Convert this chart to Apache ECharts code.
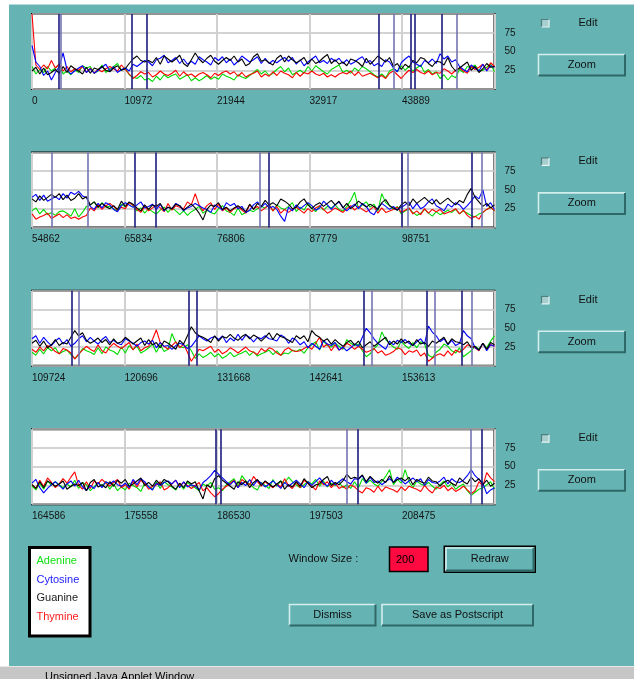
<!DOCTYPE html>
<html>
<head>
<meta charset="utf-8">
<script src="https://cdn.jsdelivr.net/npm/echarts@6/dist/echarts.min.js"></script>
<style>
  html, body { margin: 0; padding: 0; background: #66b3b3; }
  #chart { width: 634px; height: 679px; }
</style>
</head>
<body>
<div id="chart"></div>
<script>
// ---- Sequence windows: each panel covers 54862 bp, ticks every 10972.4 bp ----
const panelStart = [0, 54862, 109724, 164586];
const panelSpan = 54862;
const tickStep = 10972.4;
const tickLabels = [
  [0, 10972, 21944, 32917, 43889],
  [54862, 65834, 76806, 87779, 98751],
  [109724, 120696, 131668, 142641, 153613],
  [164586, 175558, 186530, 197503, 208475]
];
const yTickLabels = [25, 50, 75];
const baseNames = ['Adenine', 'Cytosine', 'Guanine', 'Thymine'];

// ---- Base composition (%) per sliding window, panel 1 ----
const adenine1 = [30,20,26,22,30,24,28,33,20,24,19,26,22,31,28,30,21,24,32,22,27,30,34,25,28,19,16,14,18,12,14,10,17,12,19,15,18,20,13,16,19,11,15,11,14,18,13,16,13,20,17,15,12,19,16,14,18,22,26,20,24,18,21,26,30,23,28,19,22,25,21,30,24,31,27,23,20,26,29,32,22,25,21,28,24,30,27,23,19,16,20,15,24,27,23,31,25,30,24,28,32,22,26,20,23,14,19,12,18,15,26,22,30,28,32,24,25,29,33,23];
const cytosine1 = [58,36,30,18,24,12,22,30,48,26,20,24,28,31,22,27,21,25,29,33,24,30,22,26,28,24,33,30,34,38,36,31,39,41,45,35,38,42,34,40,33,37,33,43,39,36,32,42,38,43,35,40,32,37,44,40,36,39,43,34,41,34,38,35,39,42,37,42,33,39,31,36,40,44,35,38,34,41,37,41,34,39,33,36,40,43,35,38,31,34,30,39,36,28,23,35,40,44,36,33,30,38,35,40,34,47,40,44,36,39,30,26,23,32,28,24,33,24,31,29];
const guanine1 = [24,29,20,28,19,22,26,21,30,22,31,27,24,20,29,21,28,26,30,25,23,28,31,25,27,34,40,44,38,36,38,35,42,33,44,40,36,40,45,34,30,39,48,40,35,41,45,37,33,38,42,38,44,36,40,31,34,43,47,37,39,35,32,41,45,36,44,39,35,38,42,33,40,34,37,42,46,34,39,33,36,31,40,38,35,30,41,33,38,44,40,36,42,30,34,26,33,29,38,35,42,40,34,30,37,36,32,42,30,24,28,32,36,25,30,22,27,34,29,30];
const thymine1 = [100,32,26,32,27,38,28,33,24,30,23,27,25,30,22,28,21,26,23,27,30,27,24,32,26,20,14,18,23,20,22,16,19,24,20,18,21,25,17,23,18,20,16,20,22,19,15,21,18,22,24,20,23,17,22,16,19,21,24,16,20,17,23,18,24,21,19,15,22,17,22,20,24,20,18,21,16,19,16,20,22,20,24,18,23,17,19,21,18,15,18,14,21,24,19,14,20,25,22,26,22,20,24,19,22,21,27,24,20,25,28,24,21,30,26,29,33,25,35,30];

// ---- panel 2 ----
const adenine2 = [22,26,18,24,17,20,16,21,22,19,15,25,14,20,28,30,34,26,33,27,28,25,22,31,27,33,29,22,26,19,25,21,18,23,27,20,26,22,17,22,16,21,24,28,19,23,20,18,25,29,22,20,16,26,17,20,23,21,25,28,26,31,22,30,26,24,28,33,21,27,23,32,25,21,29,23,28,26,30,24,22,28,36,47,25,30,34,27,31,22,45,33,29,24,28,18,22,25,20,16,19,24,19,15,21,17,20,23,20,24,18,22,19,16,14,18,20,24,27,22];
const cytosine2 = [40,44,36,43,35,38,41,37,45,39,47,44,48,42,40,28,24,32,26,33,30,24,21,29,33,30,27,30,34,26,28,31,24,31,22,27,25,32,29,22,26,28,32,29,26,24,20,30,27,23,33,29,32,25,28,20,23,30,34,27,32,26,28,24,15,8,27,22,30,25,29,33,29,23,26,35,30,24,30,34,27,22,27,31,25,32,28,20,17,26,32,28,24,28,23,27,30,34,25,32,25,28,34,38,29,26,22,31,27,33,30,24,29,35,42,38,50,28,33,24];
const guanine2 = [38,34,42,36,40,44,40,45,37,43,36,39,45,38,41,30,34,27,32,28,25,29,24,35,28,34,31,26,22,30,24,30,28,32,23,27,25,31,29,23,27,31,26,19,10,24,30,28,33,24,27,22,26,29,25,21,31,24,32,28,36,30,33,29,38,35,31,25,27,34,38,30,25,30,33,28,32,36,30,35,26,32,25,29,35,31,27,31,28,24,33,37,29,26,23,30,34,29,38,32,36,40,35,31,37,31,35,39,34,30,36,33,44,52,40,34,28,32,26,30];
const thymine2 = [18,11,14,16,19,12,15,18,13,17,12,14,11,14,16,26,22,30,24,29,32,28,23,27,25,33,30,24,20,28,22,26,30,26,21,32,23,29,27,25,34,30,45,30,22,29,33,24,31,22,26,20,25,28,23,19,30,25,28,22,26,30,22,28,19,24,20,24,27,23,19,25,21,26,29,24,19,22,26,23,20,25,29,23,28,24,21,24,28,19,26,20,22,24,27,20,23,26,18,22,17,25,19,24,21,24,18,20,22,25,18,23,16,12,15,11,20,24,27,22];

// ---- panel 3 ----
const adenine3 = [18,14,22,16,24,20,24,16,19,21,15,10,14,23,20,18,15,24,16,25,21,19,15,25,17,27,22,26,17,20,24,29,18,28,19,22,43,31,26,24,28,20,10,16,11,14,18,12,16,10,13,18,12,15,17,20,14,19,13,16,18,21,15,20,14,17,16,21,19,22,17,24,28,32,21,33,27,25,30,26,22,35,30,27,29,20,12,16,23,28,45,35,30,25,22,33,27,23,31,24,32,29,14,11,18,22,29,26,20,17,24,12,16,20,26,22,30,24,33,40];
const cytosine3 = [36,40,30,38,32,27,33,37,29,35,26,30,36,40,32,38,33,29,35,39,31,34,30,28,36,33,30,26,31,33,29,34,24,31,26,27,22,27,30,28,23,26,33,40,36,33,37,39,35,40,31,37,33,42,34,41,38,32,38,36,40,36,35,33,41,38,30,37,34,28,32,24,30,26,22,34,29,27,31,21,25,20,24,29,26,38,50,44,36,30,26,22,33,28,34,31,35,30,27,32,36,29,53,45,40,32,36,28,34,27,30,47,40,36,24,21,30,20,28,26];
const guanine3 = [30,34,26,33,24,28,35,27,31,29,38,47,40,44,34,30,33,37,31,35,28,36,30,32,38,34,29,33,37,27,35,28,31,24,33,30,26,22,34,29,40,52,44,40,38,35,31,40,33,39,37,42,37,34,39,42,36,41,38,33,38,44,35,43,39,37,34,31,40,36,40,32,47,41,38,33,36,29,35,30,26,31,34,28,33,24,28,32,26,30,34,38,28,33,29,36,30,33,27,35,29,31,26,33,30,34,38,29,36,32,31,28,32,24,26,21,30,22,31,28];
const thymine3 = [22,18,25,20,27,24,19,16,23,21,17,9,16,21,26,22,19,28,20,17,25,30,26,23,27,31,21,29,20,24,26,35,48,31,26,22,27,32,24,29,18,6,14,22,20,23,26,18,22,16,19,24,21,17,21,25,20,18,15,23,19,24,22,17,14,21,24,20,19,20,23,26,22,30,38,25,29,20,28,21,24,30,27,22,26,22,18,20,23,17,20,14,16,19,24,22,15,20,18,21,13,17,6,10,14,16,13,20,14,21,18,22,28,26,24,20,30,22,28,26];

// ---- panel 4 ----
const adenine4 = [24,19,28,20,31,25,30,26,22,27,23,32,21,29,26,18,23,29,24,30,20,27,18,23,19,28,25,22,17,28,24,20,30,21,30,26,23,19,28,20,29,25,22,18,27,24,29,20,22,18,26,30,34,24,38,31,27,22,19,29,25,21,33,24,31,28,36,30,26,22,26,30,27,33,24,31,23,28,25,30,22,26,21,30,22,34,28,32,27,24,30,37,46,26,33,28,46,30,22,31,27,25,29,24,20,26,31,23,28,20,24,27,18,12,16,20,22,26,30,20];
const cytosine4 = [28,33,22,15,21,26,30,25,20,27,31,24,32,23,18,25,21,29,22,30,27,31,26,24,28,22,33,26,34,30,23,19,28,25,29,31,27,32,22,30,23,26,24,19,29,33,38,45,40,35,30,26,31,22,29,25,33,25,32,28,23,27,31,26,21,29,24,28,32,27,22,30,25,30,35,28,24,32,26,30,34,30,27,34,33,38,28,36,29,31,26,30,34,29,36,32,27,31,35,30,34,25,33,29,28,31,36,27,34,30,29,32,38,46,38,33,28,14,19,22];
const guanine4 = [26,21,30,22,31,28,24,27,31,20,24,27,25,29,18,29,33,23,26,22,30,24,32,28,33,24,27,31,35,25,29,24,32,26,33,30,24,20,28,22,31,27,30,18,7,26,22,34,38,32,28,24,20,30,26,31,22,29,33,25,31,27,23,27,31,20,26,23,30,24,34,28,22,26,27,33,37,25,29,26,31,40,34,36,34,39,30,37,32,28,33,29,38,29,33,35,31,36,26,33,30,28,36,31,30,24,29,32,28,25,35,30,27,36,30,34,26,32,24,28];
const thymine4 = [26,21,32,24,35,29,22,27,34,28,36,43,25,20,30,21,31,27,33,28,24,29,33,22,26,20,31,23,32,28,20,24,26,30,19,22,27,32,24,29,25,21,25,29,18,22,15,10,14,20,24,28,32,22,33,29,26,37,30,24,30,26,22,27,23,34,25,21,29,22,32,28,24,19,31,26,30,22,28,21,24,20,26,23,18,15,22,20,16,24,17,23,21,19,16,23,18,24,22,20,17,25,19,15,23,21,25,18,22,17,20,24,19,14,18,30,24,42,35,30];

// ---- Marked sites (bp): strong and weak markers ----
const strongMarks1 = [3167, 11779, 13558, 41078, 44921, 45349, 48599];
const weakMarks1 = [3440, 42857, 50378];
const strongMarks2 = [66997, 69488, 82892, 98668, 106972];
const weakMarks2 = [57234, 61469, 81872, 99428, 108241];
const strongMarks3 = [114433, 128312, 129296, 149023, 156543, 160695];
const weakMarks3 = [115264, 150055, 157492, 161881];
const strongMarks4 = [186376, 187005, 203173, 217965];
const weakMarks4 = [201916, 216625];

const windowSize = '200';

// ---- look ----
const FONT = '"Liberation Sans", Arial, sans-serif';
const TEAL = '#66b3b3';
const LIGHT_EDGE = '#d4eeee';
const DARK_EDGE = '#2f6868';
const lineColors = { Adenine: '#00dc00', Cytosine: '#0000ff', Guanine: '#000000', Thymine: '#ff0000' };
const legendColors = { Adenine: '#10e010', Cytosine: '#2020ff', Guanine: '#1a1a1a', Thymine: '#ff1a1a' };
const STRONG_MARK = '#1c1c80';
const WEAK_MARK = '#7474b4';

const panels = [
  { values: { Adenine: adenine1, Cytosine: cytosine1, Guanine: guanine1, Thymine: thymine1 }, strong: strongMarks1, weak: weakMarks1 },
  { values: { Adenine: adenine2, Cytosine: cytosine2, Guanine: guanine2, Thymine: thymine2 }, strong: strongMarks2, weak: weakMarks2 },
  { values: { Adenine: adenine3, Cytosine: cytosine3, Guanine: guanine3, Thymine: thymine3 }, strong: strongMarks3, weak: weakMarks3 },
  { values: { Adenine: adenine4, Cytosine: cytosine4, Guanine: guanine4, Thymine: thymine4 }, strong: strongMarks4, weak: weakMarks4 }
];

const PANEL_STEP = 138.4;
const drawOrder = ['Adenine', 'Thymine', 'Cytosine', 'Guanine'];

const grids = [], xAxes = [], yAxes = [], series = [];

panels.forEach((pn, p) => {
  const start = panelStart[p];
  grids.push({
    left: 32, right: 139.5, top: 14 + PANEL_STEP * p, height: 75,
    show: true, backgroundColor: '#ffffff', borderColor: '#000000', borderWidth: 2
  });
  xAxes.push({
    type: 'value', gridIndex: p,
    min: start, max: start + panelSpan, interval: tickStep,
    axisLine: { show: false }, axisTick: { show: false },
    splitLine: { show: true, lineStyle: { color: '#d0d0d0', width: 2 } },
    axisLabel: {
      showMaxLabel: false, align: 'left', margin: 7,
      fontFamily: FONT, fontSize: 10, color: '#141414',
      formatter: (v) => {
        const k = Math.round((v - start) / tickStep);
        return tickLabels[p][k] !== undefined ? String(tickLabels[p][k]) : '';
      }
    }
  });
  yAxes.push({
    type: 'value', gridIndex: p, position: 'right',
    min: 0, max: 100, interval: 25,
    axisLine: { show: false }, axisTick: { show: false },
    splitLine: { show: true, lineStyle: { color: '#c4c4c4', width: 1.5 } },
    axisLabel: {
      margin: 10, fontFamily: FONT, fontSize: 10, color: '#141414',
      formatter: (v) => (yTickLabels.indexOf(v) >= 0 ? String(v) : '')
    }
  });

  drawOrder.forEach((name) => {
    const vals = pn.values[name];
    const step = panelSpan / (vals.length - 1);
    const s = {
      type: 'line', name: name, xAxisIndex: p, yAxisIndex: p,
      data: vals.map((v, i) => [start + i * step, v]),
      symbol: 'none', showSymbol: false, silent: true, animation: false,
      lineStyle: { color: lineColors[name], width: 1.1 },
      itemStyle: { color: lineColors[name] }
    };
    if (name === 'Guanine') {
      s.markLine = {
        symbol: ['none', 'none'], silent: true, animation: false,
        label: { show: false },
        lineStyle: { type: 'solid', width: 1.6 },
        data: pn.weak.map((x) => ({ xAxis: x, lineStyle: { color: WEAK_MARK, type: 'solid', width: 1.6 } }))
          .concat(pn.strong.map((x) => ({ xAxis: x, lineStyle: { color: STRONG_MARK, type: 'solid', width: 1.6 } })))
      };
    }
    series.push(s);
  });
});

// ---- applet controls ----
function label(x, y, text, opts) {
  opts = opts || {};
  return {
    type: 'text', x: x, y: y, z: 20,
    style: {
      text: text, fill: opts.color || '#111111',
      font: (opts.size || 11) + 'px ' + FONT,
      align: opts.align || 'left', textAlign: opts.align || 'left',
      verticalAlign: 'middle', textVerticalAlign: 'middle'
    }
  };
}

function button(x, y, w, h, text, isDefault) {
  const kids = [
    { type: 'rect', shape: { x: x, y: y, width: w, height: h }, style: { fill: TEAL } },
    { type: 'polyline', shape: { points: [[x + 1, y + h - 1], [x + 1, y + 1], [x + w - 1, y + 1]] }, style: { stroke: LIGHT_EDGE, lineWidth: 1.6, fill: null } },
    { type: 'polyline', shape: { points: [[x + w - 1, y + 1], [x + w - 1, y + h - 1], [x + 1, y + h - 1]] }, style: { stroke: DARK_EDGE, lineWidth: 2, fill: null } },
    label(x + w / 2, y + h / 2, text, { align: 'center' })
  ];
  if (isDefault) {
    kids.unshift({ type: 'rect', shape: { x: x - 1.5, y: y - 1.5, width: w + 3, height: h + 3 }, style: { fill: '#000000' } });
  }
  return { type: 'group', z: 10, children: kids };
}

function checkbox(x, y) {
  return {
    type: 'group', z: 10, children: [
      { type: 'rect', shape: { x: x, y: y, width: 8, height: 8 }, style: { fill: '#a8cfcf' } },
      { type: 'polyline', shape: { points: [[x + 0.5, y + 8], [x + 0.5, y + 0.5], [x + 8, y + 0.5]] }, style: { stroke: '#4d7f7f', lineWidth: 1.2, fill: null } },
      { type: 'polyline', shape: { points: [[x + 8, y + 0.5], [x + 8, y + 8], [x + 0.5, y + 8]] }, style: { stroke: '#e6f4f4', lineWidth: 1.2, fill: null } }
    ]
  };
}

const elements = [
  // window frame margins
  { type: 'rect', z: 1, shape: { x: 0, y: 0, width: 634, height: 4.5 }, style: { fill: '#ffffff' } },
  { type: 'rect', z: 1, shape: { x: 0, y: 0, width: 9, height: 666 }, style: { fill: '#ffffff' } }
];

for (let p = 0; p < 4; p++) {
  const dy = PANEL_STEP * p;
  elements.push(checkbox(541, 19 + dy));
  elements.push(label(578.5, 23 + dy, 'Edit'));
  elements.push(button(537.5, 53.5 + dy, 88.5, 23, 'Zoom'));
}

// legend frame
elements.push({ type: 'rect', z: 2, shape: { x: 29.5, y: 547.5, width: 60.5, height: 88.5 }, style: { fill: '#ffffff', stroke: '#000000', lineWidth: 3 } });

// window size field
elements.push(label(288.5, 558.5, 'Window Size :'));
elements.push({ type: 'rect', z: 10, shape: { x: 389.5, y: 547, width: 38.5, height: 24.5 }, style: { fill: '#ff0a40', stroke: '#000000', lineWidth: 1.5 } });
elements.push(label(396, 559.5, windowSize, { color: '#000000' }));
elements.push({
  type: 'group', z: 25, children: [
    { type: 'line', shape: { x1: 407.5, y1: 551, x2: 407.5, y2: 568 }, style: { stroke: '#000000', lineWidth: 1 } },
    { type: 'line', shape: { x1: 404.5, y1: 550.5, x2: 410.5, y2: 550.5 }, style: { stroke: '#000000', lineWidth: 1 } },
    { type: 'line', shape: { x1: 404.5, y1: 568.5, x2: 410.5, y2: 568.5 }, style: { stroke: '#000000', lineWidth: 1 } },
    { type: 'line', shape: { x1: 405.5, y1: 559.5, x2: 409.5, y2: 559.5 }, style: { stroke: '#000000', lineWidth: 1 } }
  ]
});
elements.push(button(445, 547, 89.5, 24.5, 'Redraw', true));
elements.push(button(288.5, 603.5, 88, 23, 'Dismiss'));
elements.push(button(381, 603.5, 153, 23, 'Save as Postscript'));

// status bar
elements.push({ type: 'rect', z: 10, shape: { x: 0, y: 666, width: 634, height: 13 }, style: { fill: '#c6c6c6' } });
elements.push({ type: 'line', z: 11, shape: { x1: 0, y1: 666.5, x2: 634, y2: 666.5 }, style: { stroke: '#e8e8e8', lineWidth: 1 } });
elements.push({
  type: 'group', z: 12, children: [
    { type: 'rect', shape: { x: 16, y: 671, width: 10, height: 8 }, style: { fill: '#e8d800', stroke: '#000000', lineWidth: 1 } },
    { type: 'line', shape: { x1: 19, y1: 672, x2: 19, y2: 679 }, style: { stroke: '#000000', lineWidth: 1.5 } },
    { type: 'polyline', shape: { points: [[32, 671], [28, 675], [32, 679]] }, style: { stroke: '#000000', lineWidth: 1.5, fill: null } },
    { type: 'circle', shape: { cx: 38, cy: 676, r: 3.5 }, style: { fill: '#e8d800', stroke: '#000000', lineWidth: 1.5 } }
  ]
});
elements.push({
  type: 'text', x: 45, y: 671.5, z: 12,
  style: { text: 'Unsigned Java Applet Window', fill: '#000000', font: '11px ' + FONT, align: 'left', textAlign: 'left', verticalAlign: 'top', textVerticalAlign: 'top' }
});

const chart = echarts.init(document.getElementById('chart'), null, { renderer: 'canvas', width: 634, height: 679 });
chart.setOption({
  backgroundColor: TEAL,
  animation: false,
  grid: grids,
  xAxis: xAxes,
  yAxis: yAxes,
  series: series,
  legend: {
    orient: 'vertical', left: 31.5, top: 554.2, z: 20,
    icon: 'none', itemWidth: 0, itemHeight: 14, itemGap: 6.1, padding: 0,
    selectedMode: false,
    textStyle: { fontFamily: FONT, fontSize: 11 },
    data: baseNames.map((n) => ({ name: n, textStyle: { color: legendColors[n] } }))
  },
  graphic: { elements: elements }
});
</script>
</body>
</html>
